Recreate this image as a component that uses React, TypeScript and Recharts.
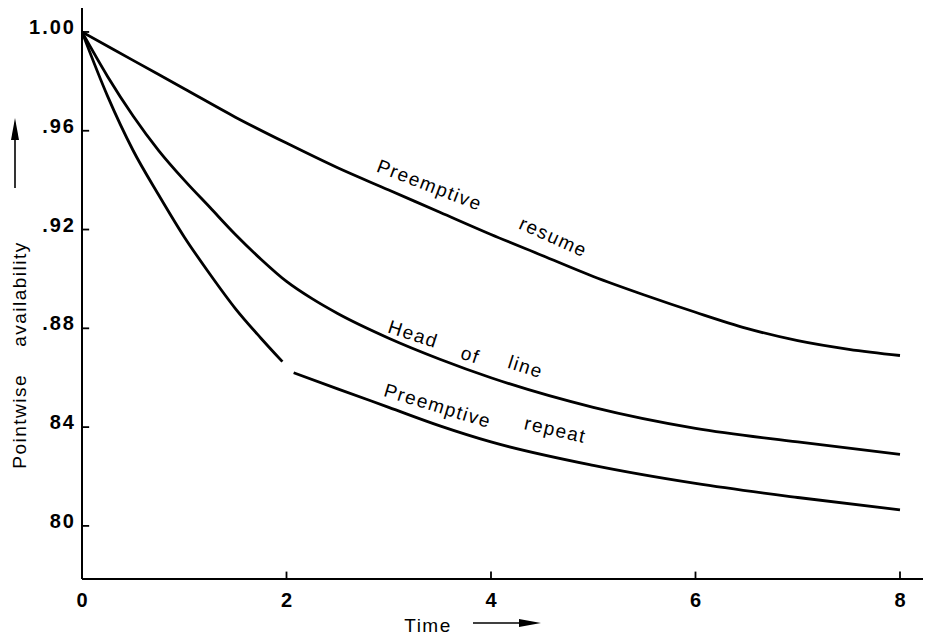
import { LineChart, Line, XAxis, YAxis, ReferenceDot, ReferenceLine } from "recharts";

// axis ticks
const xTicks = [0, 2, 4, 6, 8];
const yTicks = [0.8, 0.84, 0.88, 0.92, 0.96, 1.0];
const yTickLabels = ["80", "84", ".88", ".92", ".96", "1.00"];

// Preemptive resume
const resumeTime = [0, 0.5, 1, 1.5, 2, 2.5, 3, 3.5, 4, 4.5, 5, 5.5, 6, 6.5, 7, 7.5, 8];
const resumeValue = [1.0, 0.9885, 0.977, 0.9655, 0.955, 0.945, 0.936, 0.927, 0.918, 0.9095, 0.901, 0.8935, 0.8865, 0.88, 0.875, 0.8715, 0.869];

// Head of line
const headTime = [0, 0.25, 0.5, 0.75, 1, 1.25, 1.5, 1.75, 2, 2.25, 2.5, 3, 3.5, 4, 5, 6, 7, 8];
const headValue = [1.0, 0.982, 0.966, 0.952, 0.94, 0.929, 0.918, 0.908, 0.899, 0.892, 0.886, 0.876, 0.8675, 0.86, 0.848, 0.8395, 0.834, 0.829];

// Preemptive repeat (small break in the printed curve near t = 2)
const repeatTime = [0, 0.25, 0.5, 0.75, 1, 1.25, 1.5, 1.75, 1.96, 2, 2.07, 2.5, 3, 3.5, 4, 5, 6, 7, 8];
const repeatValue = [1.0, 0.974, 0.952, 0.934, 0.917, 0.902, 0.888, 0.876, 0.8665, null, 0.862, 0.8555, 0.848, 0.8405, 0.834, 0.8245, 0.8172, 0.8115, 0.8065];

// words written along the curves
const curveWords = [
  { text: "Preemptive", t: 3.4, v: 0.938, angle: 21 },
  { text: "resume", t: 4.61, v: 0.917, angle: 24 },
  { text: "Head", t: 3.24, v: 0.8777, angle: 18 },
  { text: "of", t: 3.8, v: 0.8692, angle: 18 },
  { text: "line", t: 4.34, v: 0.8644, angle: 18 },
  { text: "Preemptive", t: 3.48, v: 0.8486, angle: 17 },
  { text: "repeat", t: 4.63, v: 0.8389, angle: 13 },
];

const X_DOMAIN: [number, number] = [0, 8.225];
const Y_DOMAIN: [number, number] = [0.7785, 1.0097];
// inward tick length, in data units (about 7px each way)
const Y_TICK_DX = 0.07;
const X_TICK_DY = 0.003;

const toRows = (ts: number[], vs: (number | null)[]) => ts.map((t, i) => ({ t, v: vs[i] }));

const resumeData = toRows(resumeTime, resumeValue);
const headData = toRows(headTime, headValue);
const repeatData = toRows(repeatTime, repeatValue);

const FONT = "'Liberation Sans', Arial, Helvetica, sans-serif";

const YTick = ({ x, y, payload }: any) => {
  const i = yTicks.findIndex((t) => Math.abs(t - payload.value) < 1e-6);
  return (
    <text x={x + 2} y={y} dy={-5} dominantBaseline="central" textAnchor="end"
      fontSize={20} fontWeight="bold" letterSpacing={2} fill="#000" fontFamily={FONT}>
      {i >= 0 ? yTickLabels[i] : payload.value}
    </text>
  );
};

const XTick = ({ x, y, payload }: any) => (
  <text x={x} y={y} dy="0.72em" textAnchor="middle"
    fontSize={20} fontWeight="bold" fill="#000" fontFamily={FONT}>
    {payload.value}
  </text>
);

const YTitle = () => (
  <g>
    <line x1={15} y1={188} x2={15} y2={132} stroke="#000" strokeWidth={1.6} />
    <polygon points="15,118 11,140 19,140" fill="#000" />
    <text x={19} y={355} transform="rotate(-90 19 355)" textAnchor="middle" dominantBaseline="central"
      fontSize={19} letterSpacing={1.5} fill="#000" fontFamily={FONT} style={{ whiteSpace: "pre" }}>
      {"Pointwise    availability"}
    </text>
  </g>
);

const XTitle = () => (
  <g>
    <text x={428} y={625} textAnchor="middle" dominantBaseline="central"
      fontSize={19} letterSpacing={1.5} fill="#000" fontFamily={FONT}>
      Time
    </text>
    <line x1={473} y1={623} x2={526} y2={623} stroke="#000" strokeWidth={1.6} />
    <polygon points="541,623 519,619 519,627" fill="#000" />
  </g>
);

const wordLabel = (text: string, angle: number) => (props: any) => {
  const { x, y } = props.viewBox;
  return (
    <text x={x} y={y} transform={`rotate(${angle} ${x} ${y})`} textAnchor="middle" dominantBaseline="central"
      fontSize={19} letterSpacing={1.5} fill="#000" fontFamily={FONT}>
      {text}
    </text>
  );
};

export default function App() {
  return (
    <div style={{ position: "absolute", left: 0, top: 0, width: 927, height: 636, background: "#fff" }}>
      <LineChart width={927} height={636} margin={{ top: 8, right: 4, bottom: 0, left: 0 }} style={{ fontFamily: FONT }}>
        <XAxis
          type="number"
          dataKey="t"
          domain={X_DOMAIN}
          ticks={xTicks}
          interval={0}
          allowDataOverflow
          height={57}
          axisLine={{ stroke: "#000", strokeWidth: 2 }}
          tickLine={false}
          tickSize={0}
          tickMargin={14}
          tick={<XTick />}
          label={<XTitle />}
        />
        <YAxis
          type="number"
          domain={Y_DOMAIN}
          ticks={yTicks}
          interval={0}
          allowDataOverflow
          width={82}
          axisLine={{ stroke: "#000", strokeWidth: 2 }}
          tickLine={false}
          tickSize={0}
          tickMargin={8}
          tick={<YTick />}
          label={<YTitle />}
        />
        {yTicks.map((v) => (
          <ReferenceLine key={`yt${v}`} segment={[{ x: 0, y: v }, { x: Y_TICK_DX, y: v }]} stroke="#000" strokeWidth={1.8} />
        ))}
        {xTicks.filter((t) => t > 0).map((t) => (
          <ReferenceLine key={`xt${t}`} segment={[{ x: t, y: Y_DOMAIN[0] }, { x: t, y: Y_DOMAIN[0] + X_TICK_DY }]} stroke="#000" strokeWidth={1.8} />
        ))}
        <Line data={resumeData} dataKey="v" type="monotone" stroke="#000" strokeWidth={2.8} dot={false} isAnimationActive={false} />
        <Line data={headData} dataKey="v" type="monotone" stroke="#000" strokeWidth={2.8} dot={false} isAnimationActive={false} />
        <Line data={repeatData} dataKey="v" type="monotone" stroke="#000" strokeWidth={2.8} dot={false} isAnimationActive={false} connectNulls={false} />
        {curveWords.map((w, i) => (
          <ReferenceDot key={i} x={w.t} y={w.v} r={0} fill="none" stroke="none" label={wordLabel(w.text, w.angle)} />
        ))}
      </LineChart>
    </div>
  );
}
